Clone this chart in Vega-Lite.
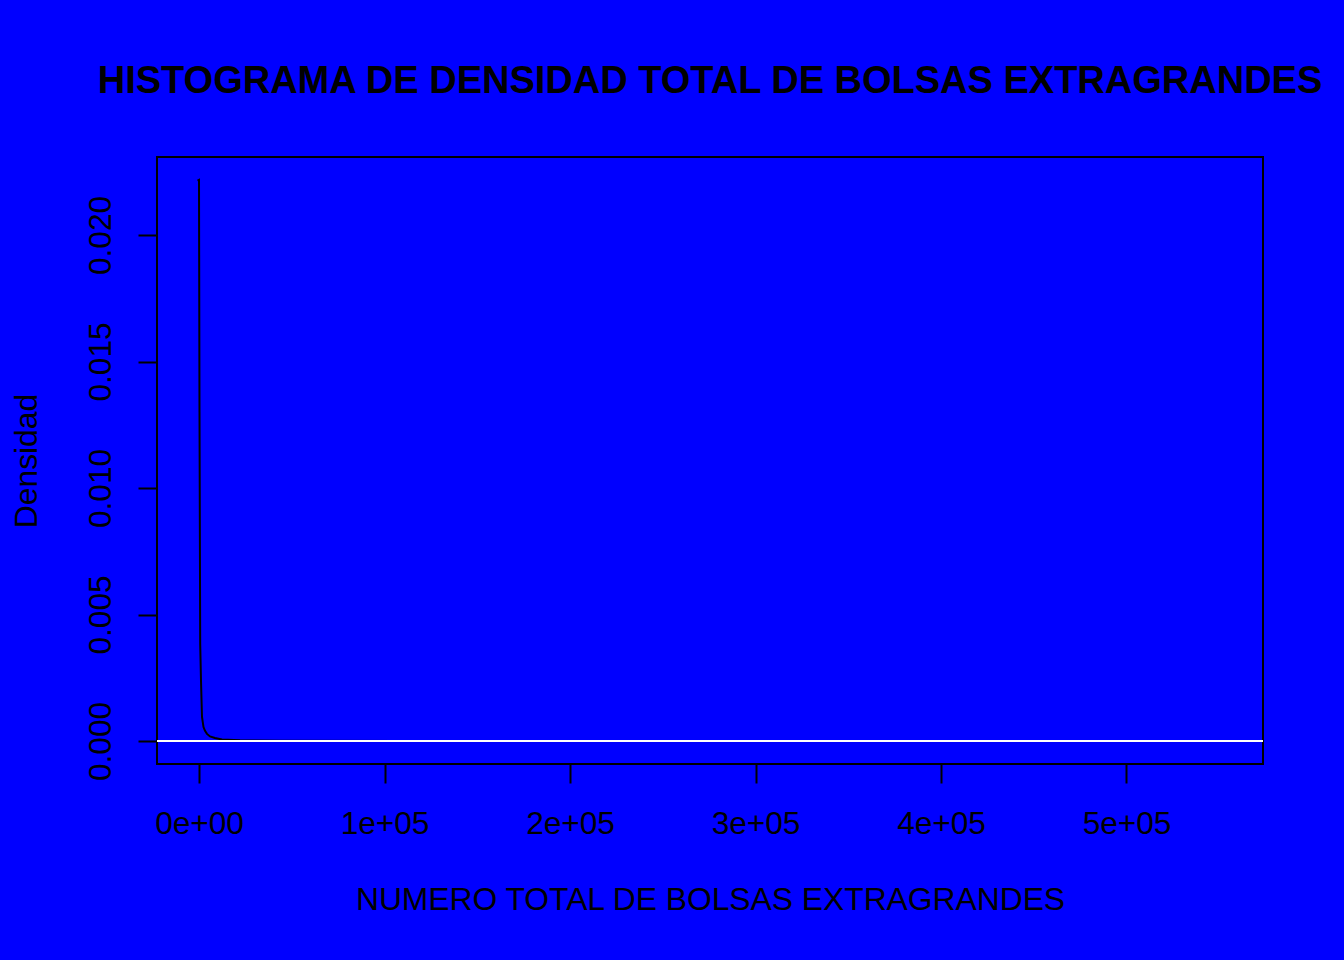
{
  "$schema": "https://vega.github.io/schema/vega-lite/v6.json",
  "width": 1106,
  "height": 607,
  "autosize": {"type": "none"},
  "padding": {"left": 157, "top": 157, "right": 81, "bottom": 196},
  "background": "#0000FF",
  "config": {
    "view": {"stroke": "black", "strokeWidth": 2, "fill": null},
    "font": "Liberation Sans"
  },
  "title": {
    "text": "HISTOGRAMA DE DENSIDAD TOTAL DE BOLSAS EXTRAGRANDES",
    "font": "Liberation Sans",
    "fontSize": 38,
    "fontWeight": "bold",
    "color": "black",
    "anchor": "middle",
    "baseline": "alphabetic",
    "offset": 26
  },
  "data": {
    "values": [
      {"x": -800, "d": 0.02215},
      {"x": 0, "d": 0.02218},
      {"x": 270, "d": 0.01300},
      {"x": 647, "d": 0.00383},
      {"x": 1078, "d": 0.00237},
      {"x": 1617, "d": 0.00095},
      {"x": 2426, "d": 0.00055},
      {"x": 3235, "d": 0.00040},
      {"x": 4313, "d": 0.00028},
      {"x": 5930, "d": 0.00018},
      {"x": 8626, "d": 0.00012},
      {"x": 12399, "d": 0.00006},
      {"x": 22103, "d": 0.00003},
      {"x": 43667, "d": 0.00001},
      {"x": 108359, "d": 0.000003},
      {"x": 250000, "d": 0.000001},
      {"x": 552000, "d": 0.0}
    ]
  },
  "layer": [
    {
      "mark": {"type": "line", "color": "black", "strokeWidth": 2, "clip": true},
      "encoding": {
        "x": {
          "field": "x",
          "type": "quantitative",
          "scale": {"domain": [-22642, 573585], "nice": false, "zero": false},
          "axis": {
            "values": [0, 100000, 200000, 300000, 400000, 500000],
            "labelExpr": "datum.value == 0 ? '0e+00' : format(datum.value / 100000, 'd') + 'e+05'",
            "domain": false,
            "grid": false,
            "ticks": true,
            "tickColor": "black",
            "tickWidth": 2,
            "tickSize": 19,
            "labelFont": "Liberation Sans",
            "labelFontSize": 31.6,
            "labelColor": "black",
            "labelBaseline": "alphabetic",
            "labelPadding": 50,
            "labelFlush": false,
            "labelOverlap": false,
            "title": "NUMERO TOTAL DE BOLSAS EXTRAGRANDES",
            "titleFont": "Liberation Sans",
            "titleFontSize": 31.8,
            "titleFontWeight": "normal",
            "titleColor": "black",
            "titleBaseline": "alphabetic",
            "titleX": 553,
            "titleY": 145,
            "titleAnchor": "middle"
          }
        },
        "y": {
          "field": "d",
          "type": "quantitative",
          "scale": {"domain": [-0.000909, 0.023083], "nice": false, "zero": false},
          "axis": {
            "values": [0, 0.005, 0.01, 0.015, 0.02],
            "format": ".3f",
            "domain": false,
            "grid": false,
            "tickColor": "black",
            "tickWidth": 2,
            "tickSize": 19,
            "labelFont": "Liberation Sans",
            "labelFontSize": 31.6,
            "labelColor": "black",
            "labelAngle": -90,
            "labelAlign": "center",
            "labelBaseline": "alphabetic",
            "labelPadding": 28,
            "labelFlush": false,
            "labelOverlap": false,
            "title": "Densidad",
            "titleFont": "Liberation Sans",
            "titleFontSize": 31.8,
            "titleFontWeight": "normal",
            "titleColor": "black",
            "titleAngle": -90,
            "titleBaseline": "alphabetic",
            "titleAlign": "center",
            "titleX": -121,
            "titleY": 303.5
          }
        }
      }
    },
    {
      "mark": {"type": "rule", "color": "white", "strokeWidth": 1},
      "encoding": {"y": {"datum": 0}}
    }
  ]
}
